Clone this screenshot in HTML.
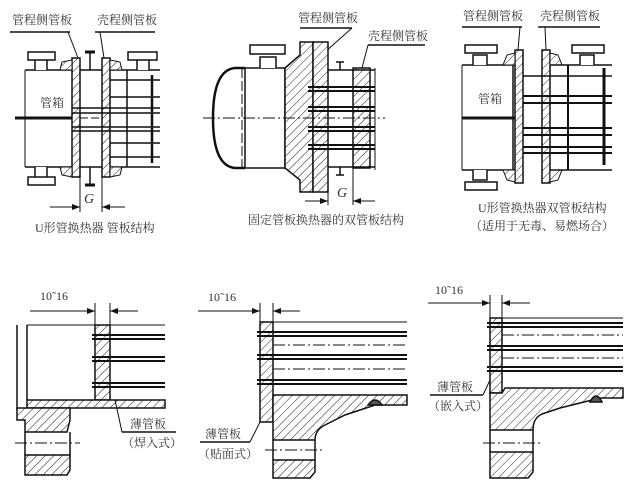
<!DOCTYPE html>
<html><head><meta charset="utf-8"><style>
body{margin:0;background:#fff}
svg{display:block}
text{font-family:"Liberation Serif","Noto Serif CJK SC","Noto Sans CJK SC",serif;fill:#333}
</style></head><body>
<svg width="640" height="495" viewBox="0 0 640 495" xmlns="http://www.w3.org/2000/svg">
<defs>
<pattern id="h" width="6" height="6" patternUnits="userSpaceOnUse" patternTransform="rotate(45)">
<rect width="6" height="6" fill="#fff"/><line x1="0" y1="0" x2="0" y2="6" stroke="#222" stroke-width="1"/></pattern>
<marker id="a" markerWidth="8" markerHeight="6" refX="8" refY="3" orient="auto"><path d="M0,0L8,3L0,6z" fill="#111"/></marker>
</defs>
<g stroke="#111" fill="none" stroke-width="1.5">
<!-- ===== Top-left ===== -->
<line x1="10" y1="32" x2="70" y2="32"/><line x1="95" y1="32" x2="155" y2="32"/>
<line x1="68" y1="32" x2="78" y2="58" stroke-width="1"/><line x1="100" y1="32" x2="104" y2="58" stroke-width="1"/>
<line x1="25" y1="70" x2="72" y2="70"/><line x1="25" y1="167" x2="72" y2="167"/>
<line x1="110" y1="70" x2="160" y2="70"/><line x1="110" y1="167" x2="160" y2="167"/>
<line x1="80" y1="70" x2="102" y2="70"/><line x1="80" y1="167" x2="102" y2="167"/>
<rect x="72" y="58" width="8" height="119" fill="url(#h)"/>
<rect x="102" y="58" width="8" height="119" fill="url(#h)"/>
<path d="M60,70 L62,62 L72,60 L72,70z M60,167 L62,175 L72,177 L72,167z M110,60 L120,62 L122,70 L110,70z M110,177 L120,175 L122,167 L110,167z" fill="url(#h)" stroke-width="1"/>
<line x1="25" y1="70" x2="25" y2="167" stroke-width="1"/>
<line x1="15" y1="118" x2="72" y2="118" stroke-width="3"/>
<line x1="80" y1="118" x2="102" y2="118" stroke-width="1" stroke-dasharray="8,3"/>
<g stroke-width="1.5">
<line x1="72" y1="108" x2="160" y2="108"/><line x1="72" y1="113" x2="160" y2="113"/>
<line x1="72" y1="127" x2="160" y2="127"/><line x1="72" y1="131" x2="160" y2="131"/>
<line x1="110" y1="80" x2="160" y2="80"/><line x1="110" y1="97" x2="160" y2="97"/>
<line x1="110" y1="143" x2="160" y2="143"/><line x1="110" y1="157" x2="160" y2="157"/>
<line x1="127" y1="70" x2="127" y2="167"/><line x1="152" y1="75" x2="152" y2="163" stroke-width="2.5"/>
</g>
<path d="M35,70V60H47V70M28,52H55V60H28z" fill="#fff"/>
<path d="M137,70V60H149V70M128,52H157V60H128z" fill="#fff"/>
<path d="M35,167V177H47V167M28,177H55V185H28z" fill="#fff"/>
<line x1="90" y1="52" x2="90" y2="70"/><line x1="85" y1="52" x2="95" y2="52" stroke-width="3"/>
<line x1="90" y1="167" x2="90" y2="185"/><line x1="85" y1="185" x2="95" y2="185" stroke-width="3"/>
<line x1="80" y1="177" x2="80" y2="212" stroke-width="1"/><line x1="102" y1="177" x2="102" y2="212" stroke-width="1"/>
<line x1="50" y1="207" x2="80" y2="207" stroke-width="1" marker-end="url(#a)"/>
<line x1="125" y1="207" x2="102" y2="207" stroke-width="1" marker-end="url(#a)"/>
<!-- ===== Top-middle ===== -->
<line x1="352" y1="28" x2="316" y2="60" stroke-width="1"/><line x1="300" y1="28" x2="352" y2="28"/>
<line x1="368" y1="45" x2="425" y2="45"/><line x1="368" y1="45" x2="362" y2="68" stroke-width="1"/>
<path d="M245,68 L235,68 Q213,70 213,118 Q213,166 235,168 L245,168" stroke-width="2.5"/>
<line x1="245" y1="68" x2="290" y2="68"/><line x1="245" y1="168" x2="290" y2="168"/>
<line x1="245" y1="68" x2="245" y2="168"/><line x1="285" y1="68" x2="285" y2="168"/>
<line x1="242" y1="68" x2="242" y2="168" stroke-width="1" stroke-dasharray="10,3"/>
<path d="M285,68 L300,55 L300,42 L313,42 L313,192 L300,192 L300,180 L285,168z" fill="url(#h)"/>
<rect x="313" y="42" width="15" height="150" fill="url(#h)"/>
<rect x="353" y="68" width="17" height="100" fill="url(#h)"/>
<line x1="328" y1="70" x2="375" y2="70"/><line x1="328" y1="167" x2="375" y2="167"/>
<line x1="375" y1="68" x2="375" y2="170" stroke-width="1"/>
<g stroke-width="2">
<line x1="308" y1="87" x2="375" y2="87"/><line x1="308" y1="91" x2="375" y2="91"/>
<line x1="308" y1="107" x2="375" y2="107"/><line x1="308" y1="111" x2="375" y2="111"/>
<line x1="308" y1="127" x2="375" y2="127"/><line x1="308" y1="131" x2="375" y2="131"/>
<line x1="308" y1="145" x2="375" y2="145"/><line x1="308" y1="149" x2="375" y2="149"/>
</g>
<line x1="203" y1="118" x2="385" y2="118" stroke-width="1" stroke-dasharray="12,3,2,3"/>
<path d="M260,68V57H276V68M250,45H285V54H250z" fill="#fff"/>
<line x1="340" y1="62" x2="340" y2="70"/><line x1="336" y1="62" x2="344" y2="62"/>
<line x1="340" y1="167" x2="340" y2="175"/><line x1="336" y1="175" x2="344" y2="175"/>
<line x1="328" y1="192" x2="328" y2="205" stroke-width="1"/><line x1="353" y1="168" x2="353" y2="205" stroke-width="1"/>
<line x1="305" y1="201" x2="328" y2="201" stroke-width="1" marker-end="url(#a)"/>
<line x1="375" y1="201" x2="353" y2="201" stroke-width="1" marker-end="url(#a)"/>
<!-- ===== Top-right ===== -->
<line x1="462" y1="27" x2="522" y2="27"/><line x1="538" y1="27" x2="600" y2="27"/>
<line x1="520" y1="27" x2="518" y2="50" stroke-width="1"/><line x1="545" y1="27" x2="546" y2="50" stroke-width="1"/>
<line x1="462" y1="65" x2="515" y2="65"/><line x1="462" y1="170" x2="515" y2="170"/>
<line x1="462" y1="65" x2="462" y2="170" stroke-width="1"/>
<line x1="462" y1="118" x2="515" y2="118" stroke-width="3"/>
<line x1="513" y1="65" x2="513" y2="170" stroke-width="1.5"/>
<rect x="515" y="50" width="8" height="133" fill="url(#h)"/>
<rect x="542" y="50" width="8" height="133" fill="url(#h)"/>
<path d="M503,65 L507,55 L515,53 L515,65z M503,170 L507,180 L515,182 L515,170z M550,53 L558,55 L562,65 L550,65z M550,182 L558,180 L562,170 L550,170z" fill="url(#h)" stroke-width="1"/>
<line x1="523" y1="76" x2="612" y2="76"/><line x1="550" y1="65" x2="612" y2="65"/><line x1="550" y1="170" x2="612" y2="170"/>
<g stroke-width="2">
<line x1="523" y1="96" x2="612" y2="96"/><line x1="523" y1="103" x2="612" y2="103"/>
<line x1="523" y1="128" x2="612" y2="128"/><line x1="523" y1="135" x2="612" y2="135"/>
<line x1="523" y1="147" x2="612" y2="147"/><line x1="523" y1="153" x2="612" y2="153"/>
<line x1="568" y1="65" x2="568" y2="170"/><line x1="604" y1="68" x2="604" y2="165" stroke-width="3"/>
</g>
<path d="M473,65V55H487V65M465,45H497V53H465z" fill="#fff"/>
<path d="M580,65V55H594V65M572,45H604V53H572z" fill="#fff"/>
<path d="M473,170V180H487V170M465,182H497V190H465z" fill="#fff"/>
<!-- ===== Bottom-left ===== -->
<line x1="30" y1="311" x2="95" y2="311" stroke-width="1" marker-end="url(#a)"/>
<line x1="138" y1="311" x2="110" y2="311" stroke-width="1" marker-end="url(#a)"/>
<line x1="95" y1="303" x2="95" y2="325" stroke-width="1"/><line x1="110" y1="303" x2="110" y2="325" stroke-width="1"/>
<line x1="27" y1="325" x2="165" y2="325" stroke-width="1"/>
<rect x="95" y="325" width="15" height="75" fill="url(#h)"/>
<line x1="17" y1="325" x2="17" y2="410"/><line x1="27" y1="325" x2="27" y2="400"/>
<g stroke-width="2">
<line x1="92" y1="335" x2="165" y2="335"/><line x1="92" y1="339" x2="165" y2="339"/>
<line x1="92" y1="357" x2="165" y2="357"/><line x1="92" y1="361" x2="165" y2="361"/>
<line x1="92" y1="383" x2="165" y2="383"/><line x1="92" y1="387" x2="165" y2="387"/>
</g>
<rect x="27" y="400" width="138" height="8" fill="url(#h)"/>
<path d="M17,408 H70 V420 L67,432 H25 V420 L17,420z" fill="url(#h)"/>
<path d="M25,455 H70 V470 L67,475 H25z" fill="url(#h)"/>
<line x1="25" y1="432" x2="25" y2="455"/><line x1="70" y1="432" x2="70" y2="455"/>
<line x1="15" y1="443" x2="80" y2="443" stroke-width="1" stroke-dasharray="12,3,2,3"/>
<line x1="115" y1="400" x2="122" y2="432" stroke-width="1"/><line x1="122" y1="432" x2="176" y2="432"/>
<!-- ===== Bottom-middle ===== -->
<line x1="198" y1="311" x2="260" y2="311" stroke-width="1" marker-end="url(#a)"/>
<line x1="300" y1="311" x2="273" y2="311" stroke-width="1" marker-end="url(#a)"/>
<line x1="260" y1="303" x2="260" y2="322" stroke-width="1"/><line x1="273" y1="303" x2="273" y2="322" stroke-width="1"/>
<line x1="260" y1="322" x2="407" y2="322" stroke-width="1"/>
<rect x="260" y="322" width="13" height="100" fill="url(#h)"/>
<g stroke-width="2">
<line x1="257" y1="332" x2="407" y2="332"/><line x1="257" y1="336" x2="407" y2="336"/>
<line x1="257" y1="355" x2="407" y2="355"/><line x1="257" y1="359" x2="407" y2="359"/>
<line x1="257" y1="380" x2="407" y2="380"/><line x1="257" y1="384" x2="407" y2="384"/>
</g>
<line x1="273" y1="345" x2="407" y2="345" stroke-width="1" stroke-dasharray="12,3,2,3"/>
<line x1="273" y1="369" x2="407" y2="369" stroke-width="1" stroke-dasharray="12,3,2,3"/>
<path d="M273,395 H407 V405 H375 L345,415 L325,425 Q315,430 315,440 H273z" fill="url(#h)"/>
<path d="M273,460 H315 V472 L310,478 H273z" fill="url(#h)"/>
<line x1="273" y1="440" x2="273" y2="460"/><line x1="315" y1="440" x2="315" y2="460"/>
<line x1="265" y1="450" x2="325" y2="450" stroke-width="1" stroke-dasharray="12,3,2,3"/>
<path d="M368,405 Q375,395 382,405z" fill="#555"/>
<line x1="260" y1="422" x2="250" y2="442" stroke-width="1"/><line x1="200" y1="442" x2="250" y2="442"/>
<!-- ===== Bottom-right ===== -->
<line x1="428" y1="303" x2="490" y2="303" stroke-width="1" marker-end="url(#a)"/>
<line x1="530" y1="303" x2="502" y2="303" stroke-width="1" marker-end="url(#a)"/>
<line x1="490" y1="295" x2="490" y2="318" stroke-width="1"/><line x1="502" y1="295" x2="502" y2="318" stroke-width="1"/>
<line x1="502" y1="318" x2="623" y2="318" stroke-width="1"/>
<rect x="490" y="318" width="12" height="75" fill="url(#h)"/>
<g stroke-width="2">
<line x1="487" y1="323" x2="623" y2="323"/><line x1="487" y1="327" x2="623" y2="327"/>
<line x1="487" y1="346" x2="623" y2="346"/><line x1="487" y1="350" x2="623" y2="350"/>
<line x1="487" y1="367" x2="623" y2="367"/><line x1="487" y1="371" x2="623" y2="371"/>
</g>
<line x1="502" y1="335" x2="623" y2="335" stroke-width="1" stroke-dasharray="12,3,2,3"/>
<line x1="502" y1="358" x2="623" y2="358" stroke-width="1" stroke-dasharray="12,3,2,3"/>
<path d="M490,393 H502 L505,388 H623 V398 H600 L560,408 L542,414 Q533,418 533,430 H490z" fill="url(#h)"/>
<path d="M490,452 H533 V472 L528,478 H490z" fill="url(#h)"/>
<line x1="490" y1="430" x2="490" y2="452"/><line x1="533" y1="430" x2="533" y2="452"/>
<line x1="483" y1="443" x2="543" y2="443" stroke-width="1" stroke-dasharray="12,3,2,3"/>
<path d="M590,402 Q596,390 602,402z" fill="#555"/>
<line x1="490" y1="380" x2="483" y2="395" stroke-width="1"/><line x1="430" y1="395" x2="483" y2="395"/>
</g>
<g font-size="12">
<text x="12" y="24">管程侧管板</text><text x="97" y="24">壳程侧管板</text>
<text x="40" y="107">管箱</text>
<text x="84" y="203" font-style="italic" font-size="14">G</text>
<text x="35" y="232">U形管换热器  管板结构</text>
<text x="298" y="22">管程侧管板</text><text x="368" y="40">壳程侧管板</text>
<text x="337" y="197" font-style="italic" font-size="14">G</text>
<text x="248" y="224">固定管板换热器的双管板结构</text>
<text x="463" y="20">管程侧管板</text><text x="540" y="20">壳程侧管板</text>
<text x="478" y="103">管箱</text>
<text x="478" y="212">U形管换热器双管板结构</text>
<text x="470" y="230">（适用于无毒、易燃场合）</text>
<text x="40" y="300">10˜16</text><text x="208" y="301">10˜16</text><text x="435" y="294">10˜16</text>
<text x="130" y="428">薄管板</text><text x="122" y="447">（焊入式）</text>
<text x="205" y="438">薄管板</text><text x="198" y="458">（贴面式）</text>
<text x="437" y="391">薄管板</text><text x="428" y="410">（嵌入式）</text>
</g>
</svg>
</body></html>
